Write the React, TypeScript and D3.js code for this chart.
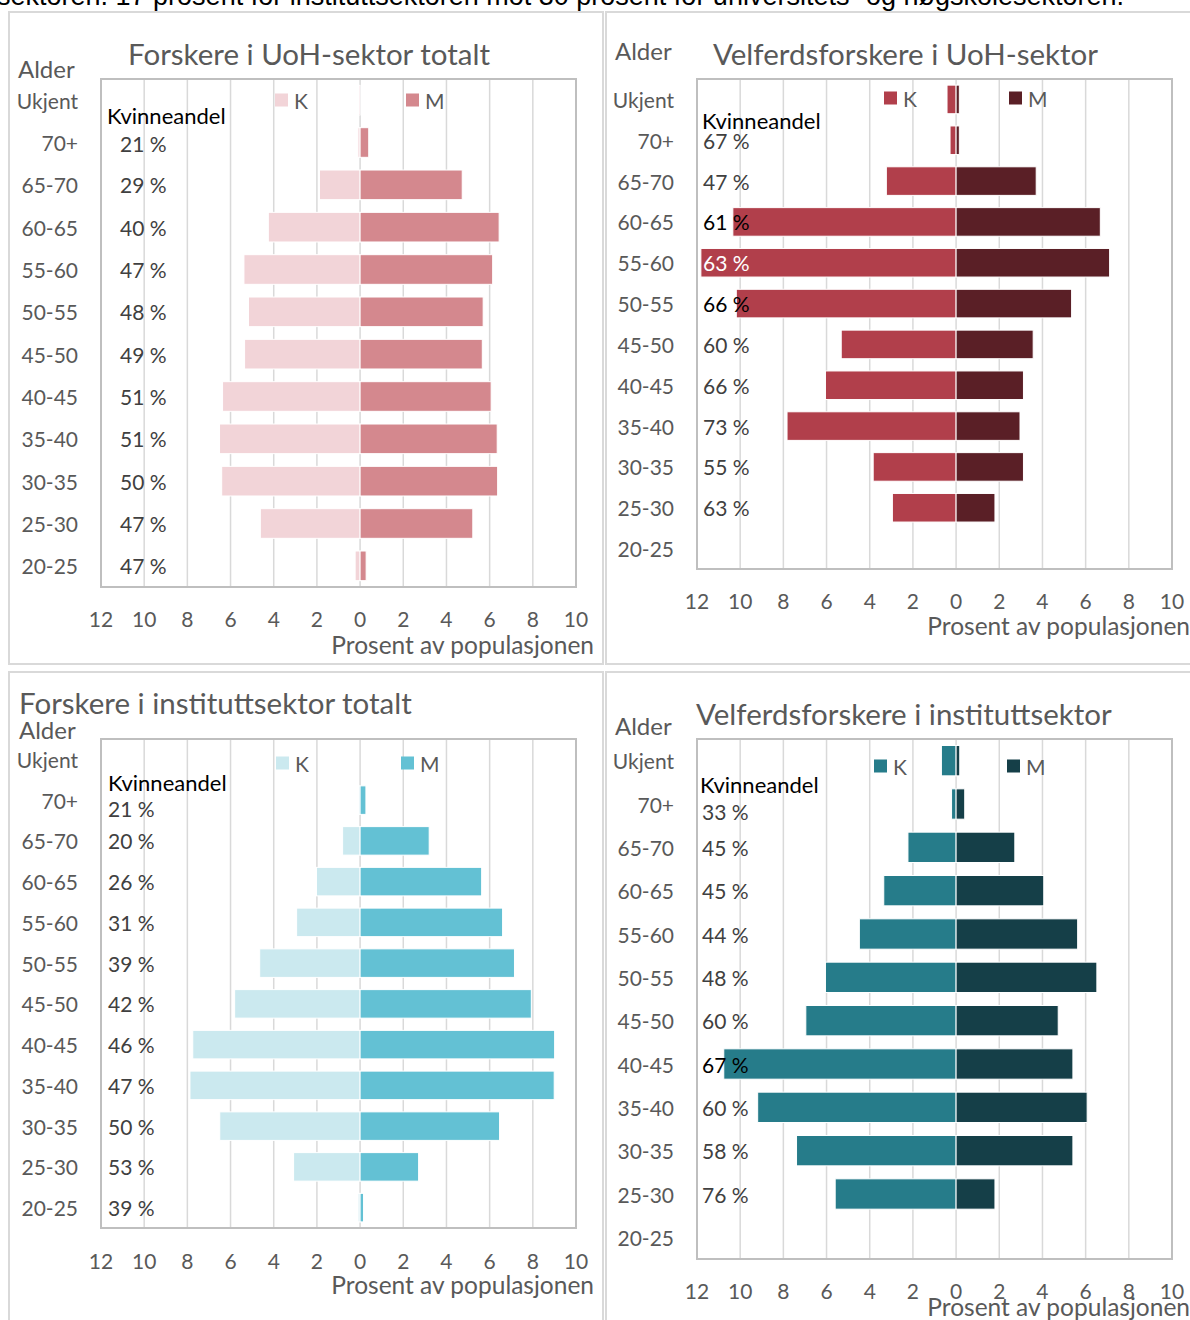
import * as d3 from "d3";

// age groups, top to bottom as in the figure
const ageGroups = ["Ukjent", "70+", "65-70", "60-65", "55-60", "50-55", "45-50", "40-45", "35-40", "30-35", "25-30", "20-25"];

// Forskere i UoH-sektor totalt (prosent av populasjonen)
const uohAllWomen = [0.05, 0.1, 1.88, 4.25, 5.38, 5.17, 5.35, 6.37, 6.51, 6.41, 4.62, 0.23];
const uohAllMen = [0, 0.4, 4.73, 6.44, 6.14, 5.7, 5.66, 6.07, 6.35, 6.37, 5.22, 0.28];
const uohAllShare = ["", "21 %", "29 %", "40 %", "47 %", "48 %", "49 %", "51 %", "51 %", "50 %", "47 %", "47 %"];

// Velferdsforskere i UoH-sektor
const uohWelfWomen = [0.42, 0.28, 3.23, 10.34, 11.82, 10.18, 5.32, 6.05, 7.83, 3.84, 2.95, 0];
const uohWelfMen = [0.15, 0.15, 3.71, 6.68, 7.11, 5.35, 3.57, 3.12, 2.96, 3.12, 1.8, 0];
const uohWelfShare = ["", "67 %", "47 %", "61 %", "63 %", "66 %", "60 %", "66 %", "73 %", "55 %", "63 %", ""];

// Forskere i instituttsektor totalt
const instAllWomen = [0, 0.07, 0.81, 2.02, 2.94, 4.65, 5.81, 7.75, 7.88, 6.5, 3.08, 0.09];
const instAllMen = [0, 0.27, 3.2, 5.63, 6.6, 7.15, 7.93, 9.01, 8.99, 6.46, 2.71, 0.16];
const instAllShare = ["", "21 %", "20 %", "26 %", "31 %", "39 %", "42 %", "46 %", "47 %", "50 %", "53 %", "39 %"];

// Velferdsforskere i instituttsektor
const instWelfWomen = [0.68, 0.21, 2.23, 3.35, 4.48, 6.05, 6.96, 10.76, 9.19, 7.39, 5.6, 0];
const instWelfMen = [0.17, 0.4, 2.72, 4.06, 5.63, 6.52, 4.73, 5.41, 6.07, 5.41, 1.8, 0];
const instWelfShare = ["", "33 %", "45 %", "45 %", "44 %", "48 %", "60 %", "67 %", "60 %", "58 %", "76 %", ""];

const xTicks = d3.range(-12, 11, 2);

const FONT = "Lato, 'Open Sans', sans-serif";
const GREY = "#595959";

const panels = [
  {
    title: "Forskere i UoH-sektor totalt",
    women: uohAllWomen, men: uohAllMen, share: uohAllShare,
    colorK: "#f2d4d8", colorM: "#d4888e",
    frame: [9, 12, 603, 664],
    plot: [101, 79, 576, 587],
    titleAt: [128, 53], alderAt: [18, 68],
    legendY: 100, legendK: 275, legendM: 406,
    kvinneAt: [107, 115], labelX: 120, firstDy: 1,
    tickY: 618, axisTitleAt: [594, 644],
  },
  {
    title: "Velferdsforskere i UoH-sektor",
    women: uohWelfWomen, men: uohWelfMen, share: uohWelfShare,
    colorK: "#b13f4b", colorM: "#5a1f26",
    frame: [606, 12, 1194, 664],
    plot: [697, 79, 1172, 569],
    titleAt: [713, 53], alderAt: [615, 50],
    legendY: 98, legendK: 884, legendM: 1009,
    kvinneAt: [702, 120], labelX: 703, firstDy: 0,
    tickY: 600, axisTitleAt: [1190, 625],
  },
  {
    title: "Forskere i instituttsektor totalt",
    women: instAllWomen, men: instAllMen, share: instAllShare,
    colorK: "#cbe9ef", colorM: "#63c1d4",
    frame: [9, 672, 603, 1324],
    plot: [101, 739, 576, 1228],
    titleAt: [19, 702], alderAt: [19, 729],
    legendY: 763, legendK: 276, legendM: 401,
    kvinneAt: [108, 782], labelX: 108, firstDy: 8,
    tickY: 1260, axisTitleAt: [594, 1284],
  },
  {
    title: "Velferdsforskere i instituttsektor",
    women: instWelfWomen, men: instWelfMen, share: instWelfShare,
    colorK: "#267c8a", colorM: "#153f48",
    frame: [606, 672, 1194, 1324],
    plot: [697, 739, 1172, 1259],
    titleAt: [696, 713], alderAt: [615, 725],
    legendY: 766, legendK: 874, legendM: 1007,
    kvinneAt: [700, 784], labelX: 702, firstDy: 7,
    tickY: 1290, axisTitleAt: [1190, 1306],
  },
];

type PanelDef = (typeof panels)[number];

function Pyramid({ p }: { p: PanelDef }) {
  const [x0, y0, x1, y1] = p.plot;
  const x = d3.scaleLinear().domain([-12, 10]).range([x0, x1]);
  const y = d3.scaleBand<string>().domain(ageGroups).range([y0, y1]).paddingInner(0.3).paddingOuter(0.15);
  const band = d3.scaleBand<string>().domain(ageGroups).range([y0, y1]);
  const rowMid = (a: string) => (band(a) ?? 0) + band.bandwidth() / 2;
  const labelW = 47;

  return (
    <g>
      <rect x={p.frame[0]} y={p.frame[1]} width={p.frame[2] - p.frame[0]} height={p.frame[3] - p.frame[1]}
        fill="#fff" stroke="#d9d9d9" strokeWidth={2} />
      <text x={p.titleAt[0]} y={p.titleAt[1]} dominantBaseline="central" fontSize={29.5} fill={GREY}>{p.title}</text>
      <text x={p.alderAt[0]} y={p.alderAt[1]} dominantBaseline="central" fontSize={24} fill={GREY}>Alder</text>

      {xTicks.map((t) => (
        <line key={t} x1={x(t)} x2={x(t)} y1={y0} y2={y1} stroke="#d9d9d9" strokeWidth={1.5} />
      ))}
      <rect x={x0} y={y0} width={x1 - x0} height={y1 - y0} fill="none" stroke="#bfbfbf" strokeWidth={2} />

      {ageGroups.map((a, i) => (
        <g key={a}>
          {p.women[i] > 0 && (
            <rect x={x(-p.women[i])} y={y(a)} width={x(0) - x(-p.women[i])} height={y.bandwidth()}
              fill={p.colorK} stroke="#fff" strokeWidth={1} />
          )}
          {p.men[i] > 0 && (
            <rect x={x(0)} y={y(a)} width={x(p.men[i]) - x(0)} height={y.bandwidth()}
              fill={p.colorM} stroke="#fff" strokeWidth={1} />
          )}
          <text x={x0 - 23} y={rowMid(a)} textAnchor="end" dominantBaseline="central" fontSize={21} fill={GREY}>{a}</text>
        </g>
      ))}

      {ageGroups.map((a, i) => {
        const s = p.share[i];
        if (!s) return null;
        const barLeft = x(-p.women[i]);
        const fill = barLeft <= p.labelX ? "#fff" : barLeft < p.labelX + labelW ? "#000" : "#404040";
        return (
          <text key={a} x={p.labelX} y={rowMid(a) + (i === 1 ? p.firstDy : 0)} dominantBaseline="central"
            fontSize={21} fill={fill}>{s}</text>
        );
      })}
      <text x={p.kvinneAt[0]} y={p.kvinneAt[1]} dominantBaseline="central" fontSize={22} fill="#000">Kvinneandel</text>

      <rect x={p.legendK} y={p.legendY - 6.5} width={13} height={13} fill={p.colorK} />
      <text x={p.legendK + 19} y={p.legendY} dominantBaseline="central" fontSize={21} fill={GREY}>K</text>
      <rect x={p.legendM} y={p.legendY - 6.5} width={13} height={13} fill={p.colorM} />
      <text x={p.legendM + 19} y={p.legendY} dominantBaseline="central" fontSize={21} fill={GREY}>M</text>

      {xTicks.map((t) => (
        <text key={t} x={x(t)} y={p.tickY} textAnchor="middle" dominantBaseline="central" fontSize={21} fill={GREY}>
          {Math.abs(t)}
        </text>
      ))}
      <text x={p.axisTitleAt[0]} y={p.axisTitleAt[1]} textAnchor="end" dominantBaseline="central" fontSize={24.5} fill={GREY}>
        Prosent av populasjonen
      </text>
    </g>
  );
}

export default function App() {
  return (
    <svg width={1190} height={1320} viewBox="0 0 1190 1320"
      style={{ position: "absolute", left: 0, top: 0, background: "#fff" }} fontFamily={FONT}>
      <rect width={1190} height={1320} fill="#fff" />
      <text x={-3} y={5} fontSize={27} fontFamily="'Liberation Sans', Arial, sans-serif" fill="#000">
        sektoren. 17 prosent for instituttsektoren mot 30 prosent for universitets- og høgskolesektoren.
      </text>
      {panels.map((p) => (
        <Pyramid key={p.title} p={p} />
      ))}
    </svg>
  );
}
